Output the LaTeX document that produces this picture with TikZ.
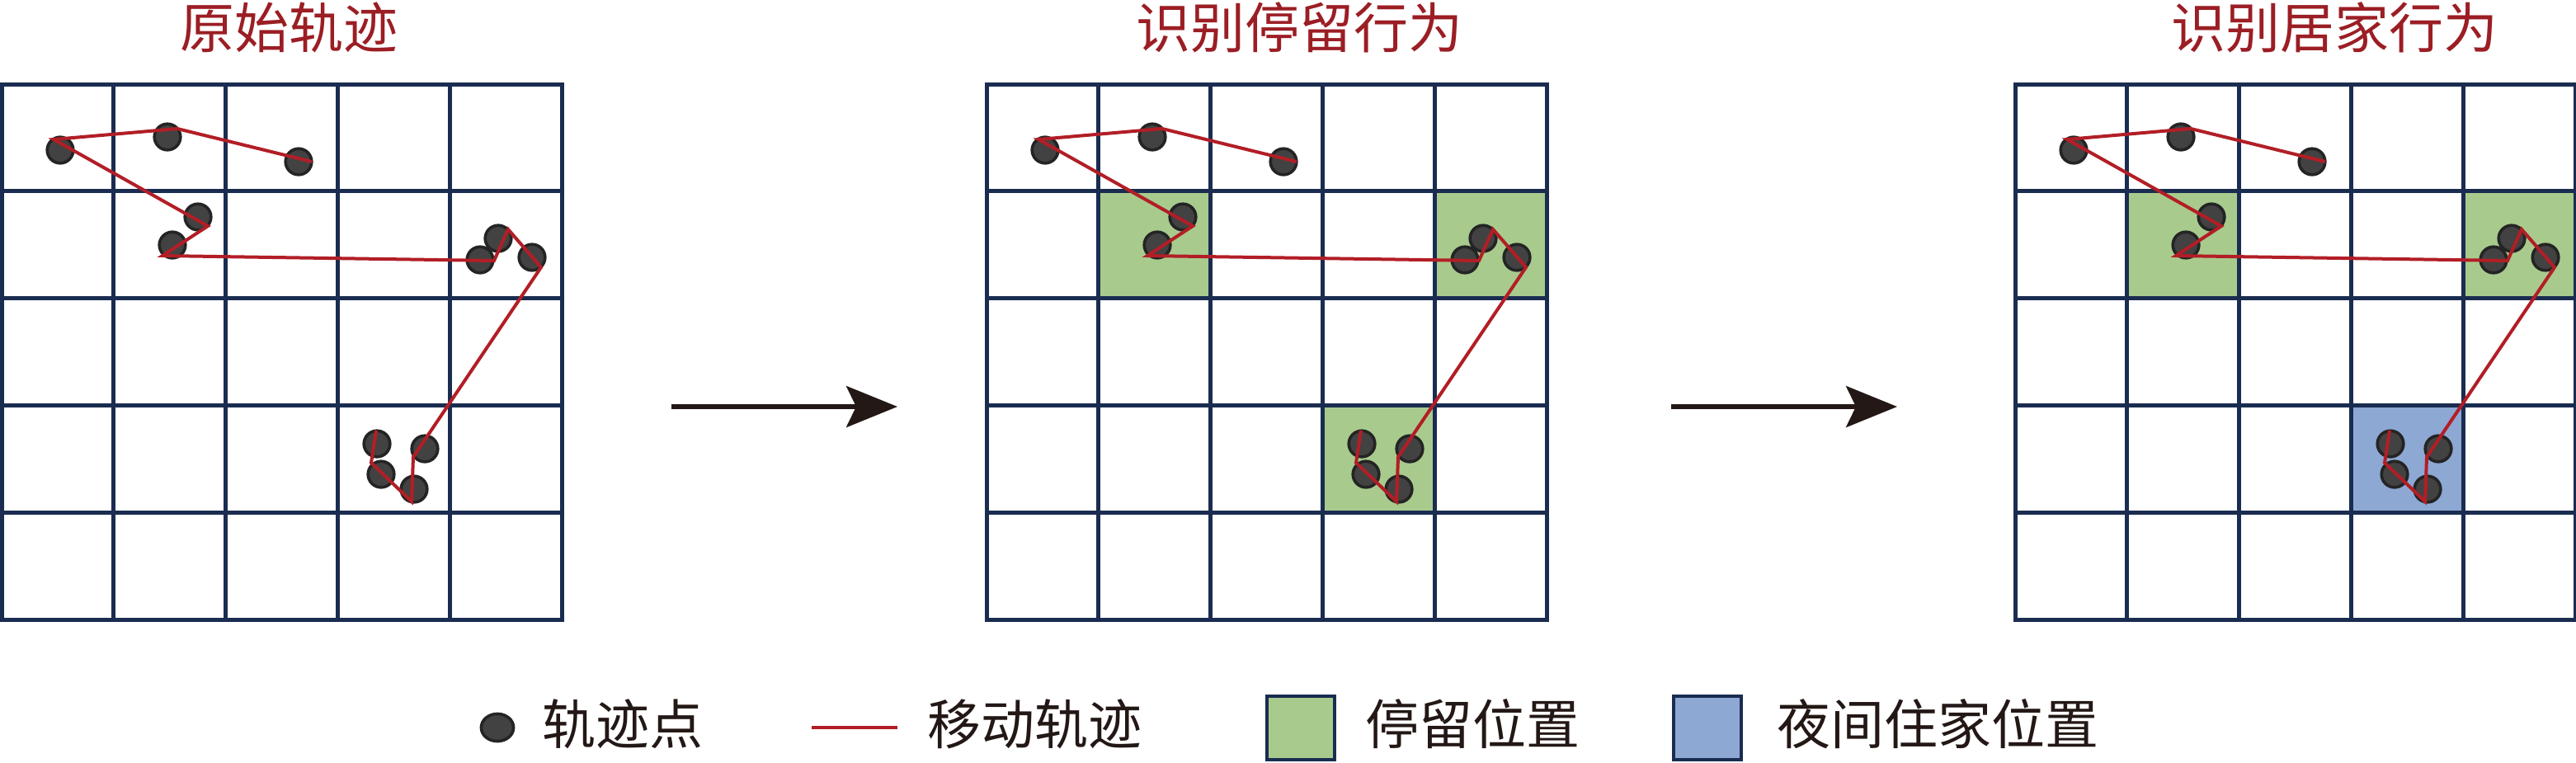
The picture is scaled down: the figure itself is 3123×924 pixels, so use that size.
\documentclass[tikz,border=0pt]{standalone}
\usepackage{fontspec}
\newfontfamily\cjk{Noto Sans CJK SC}
\usetikzlibrary{arrows.meta,shapes.geometric}

\definecolor{gridblue}{RGB}{26,44,80}
\definecolor{trajred}{RGB}{178,30,38}
\definecolor{titlered}{RGB}{155,30,36}
\definecolor{staygreen}{RGB}{168,203,141}
\definecolor{homeblue}{RGB}{142,168,212}
\definecolor{dotgray}{RGB}{66,66,66}
\definecolor{dotedge}{RGB}{36,36,36}
\definecolor{inkdark}{RGB}{35,24,21}

\tikzset{
  gridline/.style={draw=gridblue,line width=1.25pt},
  trajline/.style={draw=trajred,line width=1pt},
  trajpt/.style={circle,draw=dotedge,fill=dotgray,line width=0.9pt,minimum size=7.9pt,inner sep=0pt},
  staycell/.style={fill=staygreen},
  homecell/.style={fill=homeblue},
  paneltitle/.style={text=titlered,font=\cjk\fontsize{16.5pt}{16.5pt}\selectfont,inner sep=0pt},
  legendtext/.style={text=inkdark,font=\cjk\fontsize{16.25pt}{16.25pt}\selectfont,anchor=west,inner sep=0pt},
  legendbox/.style={draw=gridblue,line width=1pt,minimum width=20.5pt,minimum height=19.25pt,inner sep=0pt},
  stepto/.style={draw=inkdark,line width=1.3pt,-{Stealth[length=15.5pt,width=12.5pt,inset=3pt]}}
}

\begin{document}
\begin{tikzpicture}[x=0.25pt,y=-0.25pt]
  \useasboundingbox (0,0) rectangle (3123,924);

  % titles
  \node[paneltitle] (t1) at (350,33) {原始轨迹};
  \node[paneltitle] (t2) at (1575,33) {识别停留行为};
  \node[paneltitle] (t3) at (2830,33) {识别居家行为};

  % highlighted cells
  \begin{scope}[shift={(1196,102)}]
    \fill[staycell] (135.8,129.8) rectangle ++(135.8,129.8);
    \fill[staycell] (543.2,129.8) rectangle ++(135.8,129.8);
    \fill[staycell] (407.4,389.4) rectangle ++(135.8,129.8);
  \end{scope}
  \begin{scope}[shift={(2443,102)}]
    \fill[staycell] (135.8,129.8) rectangle ++(135.8,129.8);
    \fill[staycell] (543.2,129.8) rectangle ++(135.8,129.8);
    \fill[homecell] (407.4,389.4) rectangle ++(135.8,129.8);
  \end{scope}

  % grid, points and track in each panel
  \foreach \ox/\pn in {2/a,1196/b,2443/c}{
    \begin{scope}[shift={(\ox,102)}]
      \draw[gridline] (0,0) rectangle (679,649);
      \foreach \i in {1,...,4}{
        \draw[gridline] (\i*135.8,0) -- (\i*135.8,649);
        \draw[gridline] (0,\i*129.8) -- (679,\i*129.8);
      }
      \foreach \k/\cx/\cy/\vx/\vy in {1/71/80/63/67, 2/201/64/213/54, 3/360/94/376/94,
          4/238/161/250/172, 5/207/195/195/208, 6/580/213/597/214, 7/602/187/614/176,
          8/643/210/654/222, 9/513/442/499/452, 10/500/491/497/506, 11/460/473/448/459,
          12/455/436/454/420}{
        \node[trajpt] (\pn-p\k) at (\cx,\cy) {};
        \coordinate (\pn-v\k) at (\vx,\vy);
      }
      \draw[trajline] (\pn-v3) -- (\pn-v2) -- (\pn-v1) \foreach \k in {4,...,12}{ -- (\pn-v\k)};
    \end{scope}
  }

  % arrows between panels
  \coordinate (s1) at (814,493);
  \coordinate (e1) at (1088,493);
  \coordinate (s2) at (2026,493);
  \coordinate (e2) at (2300,493);
  \draw[stepto] (s1) -- (e1);
  \draw[stepto] (s2) -- (e2);

  % legend
  \node[trajpt,ellipse,minimum width=9.8pt,minimum height=8.3pt] (legpt) at (603,882) {};
  \node[legendtext] (legpttext) at (657,878) {轨迹点};
  \coordinate (legl1) at (984,882);
  \coordinate (legl2) at (1088,882);
  \draw[trajline] (legl1) -- (legl2);
  \node[legendtext] (leglinetext) at (1124,878) {移动轨迹};
  \node[legendbox,fill=staygreen] (legstay) at (1577,882.5) {};
  \node[legendtext] (legstaytext) at (1655,878) {停留位置};
  \node[legendbox,fill=homeblue] (leghome) at (2070,882.5) {};
  \node[legendtext] (leghometext) at (2154,878) {夜间住家位置};
\end{tikzpicture}
\end{document}
